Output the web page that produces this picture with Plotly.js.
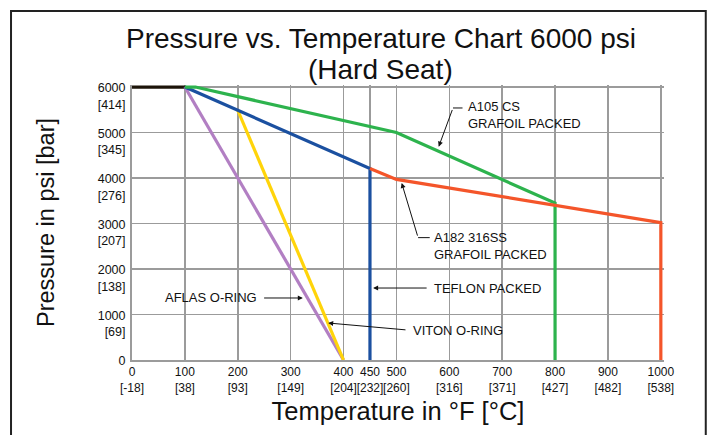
<!DOCTYPE html>
<html>
<head>
<meta charset="utf-8">
<script src="https://cdn.plot.ly/plotly-3.0.1.min.js"></script>
<style>
html,body{margin:0;padding:0;background:#fff;}
#chart{width:712px;height:435px;}
</style>
</head>
<body>
<div id="chart"></div>
<script>
// ---- data ----
const blackX = [0, 100];
const blackY = [6000, 6000];
const aflasX = [100, 400];
const aflasY = [6000, 0];
const vitonX = [200, 400];
const vitonY = [5490, 0];
const teflonX = [100, 450, 450];
const teflonY = [6000, 4210, 0];
const a105X = [100, 120, 500, 800, 800];
const a105Y = [6000, 6000, 5000, 3450, 0];
const a182X = [450, 500, 1000, 1000];
const a182Y = [4210, 3970, 3020, 0];

const xTickVals = [0, 100, 200, 300, 400, 450, 500, 600, 700, 800, 900, 1000];
const xTickText = ['0<br>[-18]', '100<br>[38]', '200<br>[93]', '300<br>[149]', '400<br>[204]', '450<br>[232]', '500<br>[260]', '600<br>[316]', '700<br>[371]', '800<br>[427]', '900<br>[482]', '1000<br>[538]'];
const yTickVals = [0, 1000, 2000, 3000, 4000, 5000, 6000];
const yTickText = ['0<br> ', '1000<br>[69]', '2000<br>[138]', '3000<br>[207]', '4000<br>[276]', '5000<br>[345]', '6000<br>[414]'];

const titleLine1 = 'Pressure vs. Temperature Chart 6000 psi';
const titleLine2 = '(Hard Seat)';

const FONT = 'Liberation Sans, Arial, Helvetica, sans-serif';
const LW = 3.2;

function line(x, y, color, name) {
  return {type: 'scatter', mode: 'lines', x: x, y: y, name: name,
          line: {color: color, width: LW}, hoverinfo: 'skip'};
}

const traces = [
  line(blackX, blackY, '#1c1409', 'base'),
  line(aflasX, aflasY, '#b27fc3', 'AFLAS O-RING'),
  line(vitonX, vitonY, '#ffd40a', 'VITON O-RING'),
  line(teflonX, teflonY, '#1b50a0', 'TEFLON PACKED'),
  line(a105X, a105Y, '#2db34d', 'A105 CS GRAFOIL PACKED'),
  line(a182X, a182Y, '#f4552a', 'A182 316SS GRAFOIL PACKED')
];

const labelFont = {family: FONT, size: 13, color: '#111'};

function label(x, y, text, anchor) {
  return {x: x, y: y, xref: 'x', yref: 'y', text: text, showarrow: false,
          xanchor: anchor, yanchor: 'middle', align: 'left', font: labelFont};
}
function arrow(x, y, ax, ay) {
  return {x: x, y: y, xref: 'x', yref: 'y', axref: 'x', ayref: 'y', ax: ax, ay: ay,
          text: ' ', font: {size: 1}, showarrow: true, arrowhead: 2, arrowsize: 1,
          arrowwidth: 1, arrowcolor: '#111', standoff: 0, startstandoff: 0};
}

const annotations = [
  {x: 0.468, y: 1.056, xref: 'paper', yref: 'paper', text: titleLine2, showarrow: false,
   xanchor: 'center', yanchor: 'middle', font: {family: FONT, size: 28, color: '#111'}},
  label(631, 5385, 'A105 CS<br>GRAFOIL PACKED', 'left'),
  arrow(580, 4690, 607, 5540),
  label(567, 2510, 'A182 316SS<br>GRAFOIL PACKED', 'left'),
  arrow(510, 3890, 541, 2690),
  label(567, 1582, 'TEFLON PACKED', 'left'),
  arrow(456, 1582, 560, 1582),
  label(527, 640, 'VITON O-RING', 'left'),
  arrow(371, 813, 520, 660),
  label(240, 1363, 'AFLAS O-RING', 'right'),
  arrow(323, 1363, 247, 1363)
];

const shapes = [
  {type: 'line', xref: 'x', yref: 'y', x0: 607, y0: 5540, x1: 625, y1: 5540, line: {color: '#111', width: 1}},
  {type: 'line', xref: 'x', yref: 'y', x0: 541, y0: 2690, x1: 563, y1: 2690, line: {color: '#111', width: 1}},
  {type: 'rect', xref: 'paper', yref: 'paper', x0: -0.2274, x1: 1.0785, y0: -0.309, y1: 1.269,
   line: {color: '#222', width: 2}, fillcolor: 'rgba(0,0,0,0)', layer: 'above'}
];

const layout = {
  width: 712, height: 435,
  margin: {l: 132, r: 48, t: 85, b: 75},
  paper_bgcolor: '#fff', plot_bgcolor: '#fff',
  showlegend: false,
  font: {family: FONT, color: '#111'},
  title: {
    text: titleLine1,
    font: {family: FONT, size: 28, color: '#111'},
    xref: 'paper', x: 0.468, xanchor: 'center',
    yref: 'container', y: 0.913, yanchor: 'middle'
  },
  xaxis: {
    range: [0, 1006], tickmode: 'array', tickvals: xTickVals, ticktext: xTickText,
    tickangle: 0,
    showgrid: true, gridcolor: '#9b9b9b', gridwidth: 1.5,
    showline: true, linecolor: '#9b9b9b', linewidth: 2, zeroline: false,
    ticks: '', tickfont: {family: FONT, size: 12, color: '#111'},
    title: {text: 'Temperature in °F [°C]', font: {family: FONT, size: 25.5, color: '#111'}, standoff: 8},
    fixedrange: true
  },
  yaxis: {
    range: [0, 6045], tickmode: 'array', tickvals: yTickVals, ticktext: yTickText,
    showgrid: true, gridcolor: '#9b9b9b', gridwidth: 1.5,
    showline: true, linecolor: '#9b9b9b', linewidth: 2, zeroline: false,
    ticks: '', tickfont: {family: FONT, size: 12.5, color: '#111'},
    ticklabelshift: 9, ticklabelstandoff: 2,
    title: {text: 'Pressure in psi [bar]', font: {family: FONT, size: 23.5, color: '#111'}, standoff: 36},
    fixedrange: true
  },
  annotations: annotations,
  shapes: shapes
};

Plotly.newPlot('chart', traces, layout, {staticPlot: true, displayModeBar: false});
</script>
</body>
</html>
